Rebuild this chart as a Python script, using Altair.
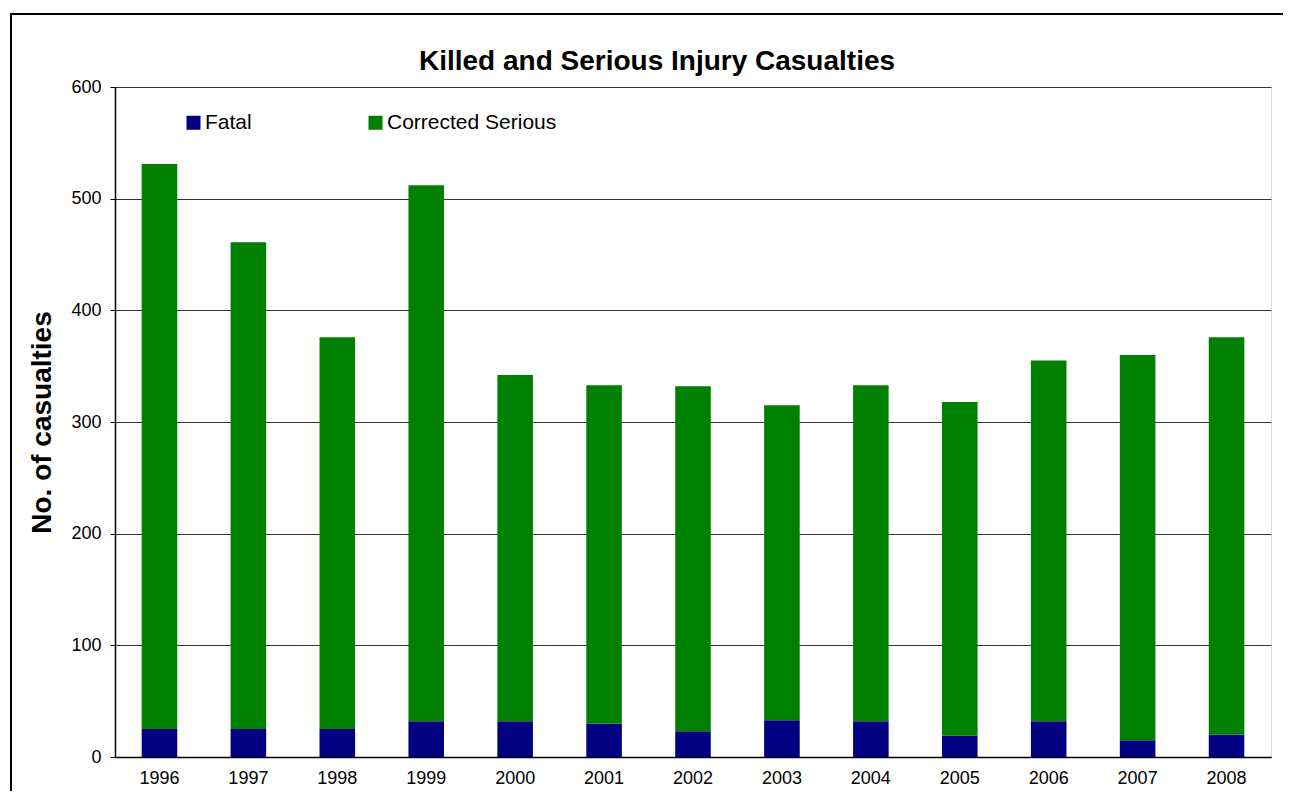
import altair as alt
import pandas as pd

years = ["1996", "1997", "1998", "1999", "2000", "2001", "2002",
         "2003", "2004", "2005", "2006", "2007", "2008"]
fatal = [25, 25, 25, 32, 32, 30, 23, 33, 32, 19, 32, 15, 20]
serious = [506, 436, 351, 480, 310, 303, 309, 282, 301, 299, 323, 345, 356]
series = ["Fatal", "Corrected Serious"]
colors = ["#000080", "#008000"]

rows = []
for y, f, s in zip(years, fatal, serious):
    rows.append({"Year": y, "Series": series[0], "Value": f, "idx": 0})
    rows.append({"Year": y, "Series": series[1], "Value": s, "idx": 1})
df = pd.DataFrame(rows)

FONT = "Liberation Sans"

bars = alt.Chart(df).mark_bar().encode(
    x=alt.X("Year:N", sort=years,
            scale=alt.Scale(paddingInner=0.6, paddingOuter=0.3),
            axis=alt.Axis(title=None, labelAngle=0, ticks=False, domain=True,
                          domainColor="#000000", domainWidth=1.5,
                          labelFontSize=18, labelFont=FONT, labelColor="#000000",
                          labelPadding=12, grid=False)),
    y=alt.Y("Value:Q", stack="zero",
            scale=alt.Scale(domain=[0, 600], nice=False),
            axis=alt.Axis(title="No. of casualties", values=[0, 100, 200, 300, 400, 500, 600],
                          titleFontSize=28, titleFont=FONT, titleFontWeight="bold",
                          titleColor="#000000", titlePadding=14,
                          labelFontSize=18, labelFont=FONT, labelColor="#000000",
                          labelPadding=9, tickSize=5, tickColor="#000000",
                          domainColor="#000000", domainWidth=1.5,
                          grid=True, gridColor="#333333", gridWidth=1)),
    color=alt.Color("Series:N",
                    scale=alt.Scale(domain=series, range=colors),
                    legend=alt.Legend(title=None, orient="none", legendX=68, legendY=25,
                                      direction="horizontal", symbolType="square",
                                      symbolSize=196, symbolStrokeWidth=0,
                                      labelFontSize=21, labelFont=FONT, labelColor="#000000",
                                      labelOffset=1, labelLimit=400, columnPadding=113)),
    order=alt.Order("idx:Q", sort="ascending"),
)

# outer frame lines of the chart object
frame_left = alt.Chart(df).mark_rule(color="#000000", strokeWidth=2).encode(
    x=alt.value(-104), y=alt.value(-73), y2=alt.value(720))
frame_top = alt.Chart(df).mark_rule(color="#000000", strokeWidth=2).encode(
    x=alt.value(-105), x2=alt.value(1200), y=alt.value(-73))

chart = alt.layer(bars, frame_left, frame_top).properties(
    width=1156, height=670,
    autosize=alt.AutoSizeParams(type="none"),
    padding={"left": 107, "top": 79, "right": 12, "bottom": 34},
    title=alt.TitleParams("Killed and Serious Injury Casualties", fontSize=28,
                          font=FONT, fontWeight="bold", color="#000000",
                          anchor="middle", dx=-36, dy=77, offset=14),
).configure_view(
    fill="#FFFFCC", stroke="#808080", strokeWidth=1
).configure(background="#FFFFFF")

chart.save("out.html", embed_options={"renderer": "svg", "actions": False})
